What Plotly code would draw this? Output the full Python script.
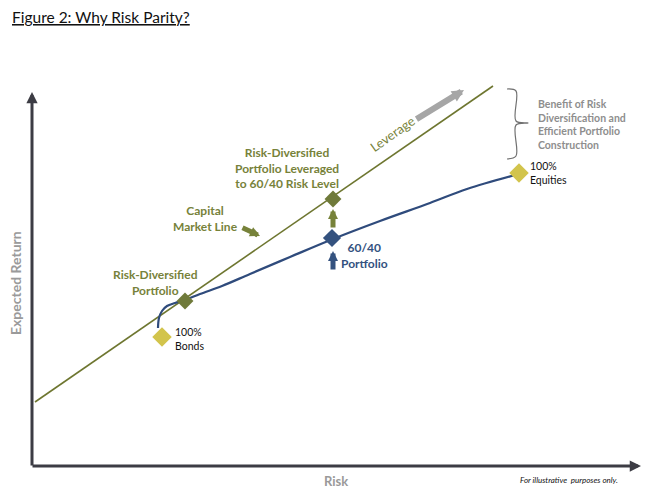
import plotly.graph_objects as go

# ---- data (pixel-like chart units: x = risk, y = return, y axis reversed) ----
cml_x = [35, 493]
cml_y = [402, 86]

frontier_x = [158, 159, 162, 167, 175, 185, 200, 222, 250, 290, 333, 380, 430, 467, 519]
frontier_y = [328, 318, 311, 306, 303, 300, 294, 286, 274, 257, 239, 221, 203, 189, 174]

asset_names = ["100%<br>Bonds", "100%<br>Equities"]
asset_x = [162, 519]
asset_y = [337, 173]

green_pts_x = [185, 333]
green_pts_y = [301, 199]

p6040_x = [332]
p6040_y = [238]

brace_x = [507, 516, 516, 528, 516, 516, 507]
brace_y = [89, 91, 121, 123, 125, 156, 159]

GREEN_LINE = "#6e7630"
GREEN_TXT = "#77823a"
BLUE = "#2f4b7c"
YELLOW = "#d2c44c"
AXIS = "#3c3c44"
GRAY = "#8e8e8e"

fig = go.Figure()

fig.add_trace(go.Scatter(x=cml_x, y=cml_y, mode="lines",
                         line=dict(color=GREEN_LINE, width=1.6), hoverinfo="skip"))
fig.add_trace(go.Scatter(x=frontier_x, y=frontier_y, mode="lines", line_shape="spline",
                         line=dict(color=BLUE, width=2.2), hoverinfo="skip"))
fig.add_trace(go.Scatter(x=asset_x, y=asset_y, mode="markers",
                         marker=dict(symbol="diamond", size=15, color=YELLOW), hoverinfo="skip"))
fig.add_trace(go.Scatter(x=green_pts_x, y=green_pts_y, mode="markers",
                         marker=dict(symbol="diamond", size=13, color="#6f7a3a"), hoverinfo="skip"))
fig.add_trace(go.Scatter(x=p6040_x, y=p6040_y, mode="markers",
                         marker=dict(symbol="diamond", size=14, color="#34527f"), hoverinfo="skip"))
fig.add_trace(go.Scatter(x=brace_x, y=brace_y, mode="lines", line_shape="spline",
                         line=dict(color="#707070", width=1.2), hoverinfo="skip"))

ann = []
FONT = "Lato"

def arrow(x0, y0, x1, y1, color, width, size, head=2):
    ann.append(dict(x=x1, y=y1, ax=x0, ay=y0, xref="x", yref="y", axref="x", ayref="y",
                    showarrow=True, arrowhead=head, arrowsize=size, arrowwidth=width,
                    arrowcolor=color, text=""))

# axes
arrow(32, 467, 32, 92, AXIS, 3, 0.75)
arrow(31, 466, 641, 466, AXIS, 3, 0.75)
# vertical block arrows
arrow(333, 229, 333, 209, "#77823a", 5, 0.4)
arrow(333, 271, 333, 251, "#34527f", 5, 0.4)
# capital market line pointer
arrow(241, 227, 260, 236, "#77823a", 5, 0.4)
# leverage arrow
arrow(415, 120, 464, 90, "#a6a6a6", 6, 0.4)

def text(x, y, s, color, size, bold=False, xanchor="center", yanchor="middle",
         angle=0, italic=False, align="center"):
    if bold:
        s = "<b>" + s + "</b>"
    if italic:
        s = "<i>" + s + "</i>"
    ann.append(dict(x=x, y=y, xref="x", yref="y", text=s, showarrow=False,
                    font=dict(family=FONT, size=size, color=color),
                    xanchor=xanchor, yanchor=yanchor, textangle=angle, align=align))

text(10, 17, "<u>Figure 2: Why Risk Parity?</u>", "#111111", 15.5, xanchor="left")
text(155, 282, "Risk-Diversified<br>Portfolio", GREEN_TXT, 12, bold=True)
text(287, 168, "Risk-Diversified<br>Portfolio Leveraged<br>to 60/40 Risk Level", GREEN_TXT, 12, bold=True)
text(205, 218, "Capital<br>Market Line", GREEN_TXT, 12, bold=True)
text(392, 134, "Leverage", GREEN_TXT, 13, angle=-35)
text(364, 255, "60/40<br>Portfolio", "#34527f", 12, bold=True)
text(173, 339, "100%<br>Bonds", "#111111", 10.5, xanchor="left", align="left")
text(528, 173, "100%<br>Equities", "#111111", 10.5, xanchor="left", align="left")
text(536, 124, "Benefit of Risk<br>Diversification and<br>Efficient Portfolio<br>Construction",
     GRAY, 10.5, bold=True, xanchor="left", align="left")
text(15, 283, "Expected Return", "#9a9a9a", 14, bold=True, angle=-90)
text(336, 481, "Risk", "#9a9a9a", 13, bold=True)
text(569, 480, "For illustrative  purposes only.", "#111111", 8, italic=True)

fig.update_layout(
    width=658, height=500, margin=dict(l=0, r=0, t=0, b=0),
    paper_bgcolor="white", plot_bgcolor="white", showlegend=False,
    xaxis=dict(range=[0, 658], visible=False, fixedrange=True),
    yaxis=dict(range=[500, 0], visible=False, fixedrange=True),
    annotations=ann,
)

fig.write_html("out.html")
